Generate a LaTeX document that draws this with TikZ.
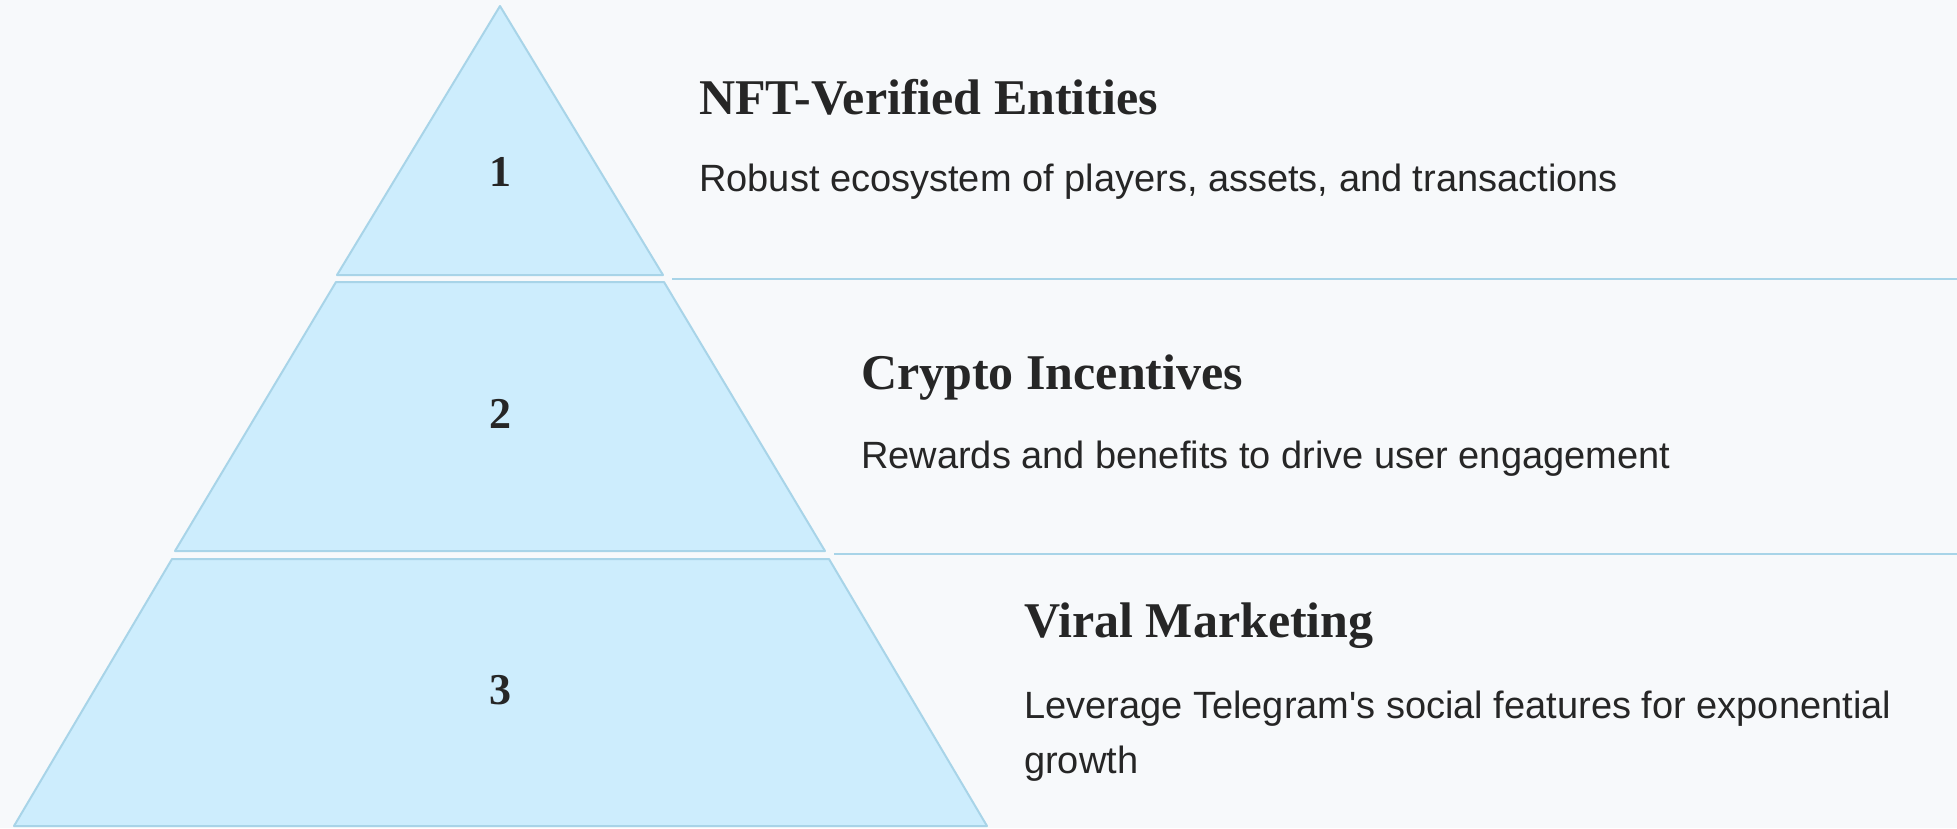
\documentclass[tikz,border=0pt]{standalone}
\usepackage{fontspec}
\setmainfont{Liberation Serif}
\newfontfamily\bodyfont{Liberation Sans}

\definecolor{pagebg}{HTML}{F7F9FB}
\definecolor{tierfill}{HTML}{CDEDFD}
\definecolor{tieredge}{HTML}{A8D4E8}
\definecolor{inkgray}{HTML}{262626}

\tikzset{
  tier/.style={fill=tierfill, draw=tieredge, line width=2pt, line join=round},
  tierrule/.style={draw=tieredge, line width=2pt},
  tiernum/.style={anchor=center, inner sep=0pt, text=inkgray, font=\fontsize{44}{44}\selectfont\bfseries},
  tiertitle/.style={anchor=base west, inner sep=0pt, text=inkgray, font=\fontsize{50}{50}\selectfont\bfseries},
  tiertext/.style={anchor=base west, inner sep=0pt, text=inkgray, align=left, font=\bodyfont\fontsize{38}{55}\selectfont},
}

\begin{document}
\begin{tikzpicture}[x=1pt, y=-1pt]
% canvas: 1957 x 828, one unit per pixel, y grows downwards
\fill[pagebg] (0,0) rectangle (1957,828);
\useasboundingbox (0,0) rectangle (1957,828);

% Draw the pyramid tiers
\draw[tier] (500,6) -- (663,275) -- (337,275) -- cycle;
\draw[tier] (336,282) -- (664,282) -- (825,551) -- (175,551) -- cycle;
\draw[tier] (172,559) -- (829,559) -- (987,826) -- (14,826) -- cycle;

% Rules between the rows
\draw[tierrule] (672,279) -- (1957,279);
\draw[tierrule] (834,554) -- (1957,554);

% Tier numbers
\node[tiernum] (num1) at (500,172) {1};
\node[tiernum] (num2) at (500,414) {2};
\node[tiernum] (num3) at (500,690) {3};

% Titles and descriptions
\node[tiertitle] (title1) at (699,114) {NFT-Verified Entities};
\node[tiertext] (text1) at (699,191) {Robust ecosystem of players, assets, and transactions};
\node[tiertitle] (title2) at (861,389) {Crypto Incentives};
\node[tiertext] (text2) at (861,468) {Rewards and benefits to drive user engagement};
\node[tiertitle] (title3) at (1024,637) {Viral Marketing};
% two lines: pin the top of the block, not its base
\node[tiertext, anchor=north west] (text3) at (1024,691) {Leverage Telegram's social features for exponential\\growth};
\end{tikzpicture}
\end{document}
